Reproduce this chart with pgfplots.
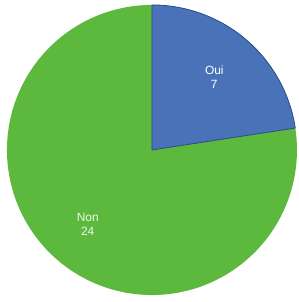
\documentclass[border=0pt]{standalone}
\usepackage{pgfplots}
\pgfplotsset{compat=1.18}
\usepackage{fontspec}
\setmainfont{Liberation Sans}
\definecolor{ouiblue}{HTML}{4A72B8}
\definecolor{nongreen}{HTML}{5DB93E}
\definecolor{edgeblue}{HTML}{2A4C86}
\begin{document}
\begin{tikzpicture}
\pgfmathsetmacro\vOui{7}
\pgfmathsetmacro\vNon{24}
\pgfmathsetmacro\aOui{360*\vOui/(\vOui+\vNon)}
\pgfmathsetmacro\aEnd{90-\aOui}
\pgfmathsetmacro\mOui{90-\aOui/2}
\pgfmathsetmacro\mNon{\aEnd-(360-\aOui)/2}
\begin{axis}[hide axis, scale only axis, width=299bp, height=302bp,
  xmin=-1.048, xmax=1.014, ymin=-1.048, ymax=1.034, clip=false]
\path[fill=white] (rel axis cs:0,0) rectangle (rel axis cs:1,1);
\addplot[fill=nongreen, draw=none, domain=-270:\aEnd, samples=240] ({cos(x)},{sin(x)}) -- (axis cs:0,0) -- cycle;
\addplot[fill=ouiblue, draw=edgeblue, line width=0.8pt, domain=\aEnd:90, samples=80] ({cos(x)},{sin(x)}) -- (axis cs:0,0) -- cycle;
\node[text=white, align=center, font=\fontsize{12}{14}\selectfont] at (axis cs:{0.66*cos(\mOui)},{0.66*sin(\mOui)}) {Oui\\7};
\node[text=white!90!nongreen, align=center, font=\fontsize{12}{14}\selectfont] at (axis cs:{0.68*cos(\mNon)},{0.68*sin(\mNon)}) {Non\\24};
\end{axis}
\end{tikzpicture}
\end{document}
